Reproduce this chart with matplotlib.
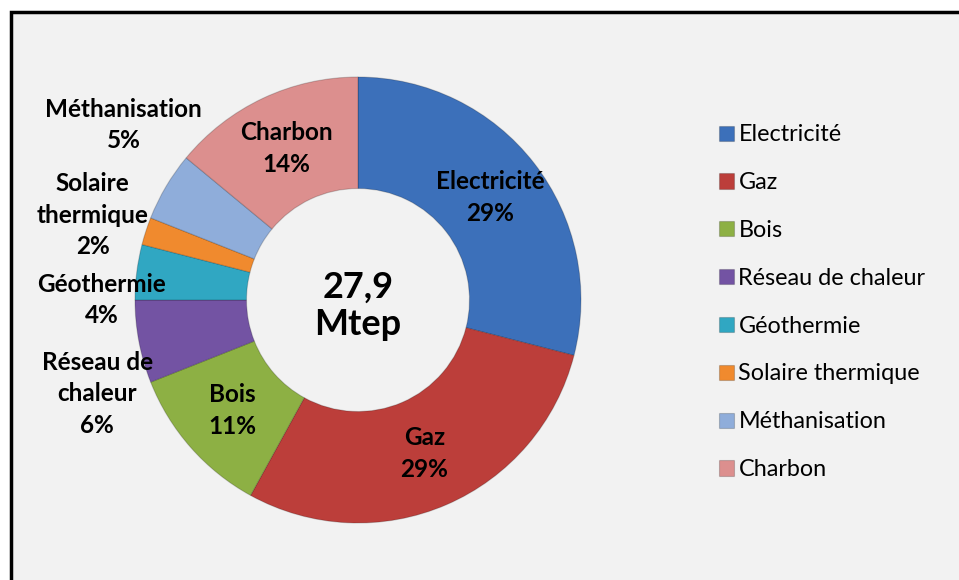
import numpy as np
import matplotlib.pyplot as plt
from matplotlib.patches import Rectangle

# data
categories = ["Electricité", "Gaz", "Bois", "Réseau de chaleur", "Géothermie",
              "Solaire thermique", "Méthanisation", "Charbon"]
shares = [29, 29, 11, 6, 4, 2, 5, 14]
total_label = "27,9\nMtep"

# label text as shown on the chart (line breaks as in the picture)
slice_labels = ["Electricité", "Gaz", "Bois", "Réseau de\nchaleur", "Géothermie",
                "Solaire\nthermique", "Méthanisation", "Charbon"]

colors = ["#3C70BA", "#BC3E3A", "#8DB044", "#7353A3", "#30A7C2",
          "#F08A2E", "#8FADDA", "#DC8F8E"]

# labels placed outside the ring (data units, radius = 1)
outside_pos = {3: (-1.17, -0.42), 4: (-1.15, 0.0), 5: (-1.19, 0.38), 6: (-1.05, 0.785)}

plt.rcParams["font.family"] = ["Lato", "DejaVu Sans"]

fig = plt.figure(figsize=(9.59, 5.8), dpi=100)
fig.patch.set_facecolor("white")

# frame
frame = Rectangle((11 / 959, -0.05), 1.0, 1 - 12 / 580 + 0.05, transform=fig.transFigure,
                  facecolor="#F2F2F2", edgecolor="black", linewidth=2.5, zorder=-10)
fig.patches.append(frame)

R = 223
cx, cy = 358, 300
ax = fig.add_axes([(cx - R) / 959, (580 - cy - R) / 580, 2 * R / 959, 2 * R / 580])
ax.set_facecolor("none")
ax.set_zorder(5)

wedges, _ = ax.pie(shares, colors=colors, startangle=90, counterclock=False, radius=1.0,
                   wedgeprops=dict(width=0.5, edgecolor="#00000030", linewidth=0.8))
ax.set_xlim(-1, 1)
ax.set_ylim(-1, 1)
ax.set_aspect("equal")
ax.axis("off")

# labels
cum = np.cumsum([0] + shares[:-1])
for i, (lab, v) in enumerate(zip(slice_labels, shares)):
    mid = (cum[i] + v / 2) / sum(shares) * 2 * np.pi
    txt = f"{lab}\n{v}%"
    if i in outside_pos:
        x, y = outside_pos[i]
    else:
        x, y = 0.75 * np.sin(mid), 0.75 * np.cos(mid)
    ax.text(x, y, txt, ha="center", va="center", fontsize=17.5, fontweight="bold",
            linespacing=1.45, clip_on=False)

ax.text(0, -0.027, total_label, ha="center", va="center", fontsize=26, fontweight="bold",
        linespacing=1.15)

leg = fig.legend(wedges, categories, loc="upper left", bbox_to_anchor=(710 / 959, 1 - 115 / 580),
                 frameon=False, fontsize=16.8, handlelength=0.62, handleheight=0.62,
                 handletextpad=0.2, labelspacing=1.15, borderaxespad=0)
leg.set_zorder(6)

fig.savefig("out.png", dpi=100, facecolor=fig.get_facecolor())
